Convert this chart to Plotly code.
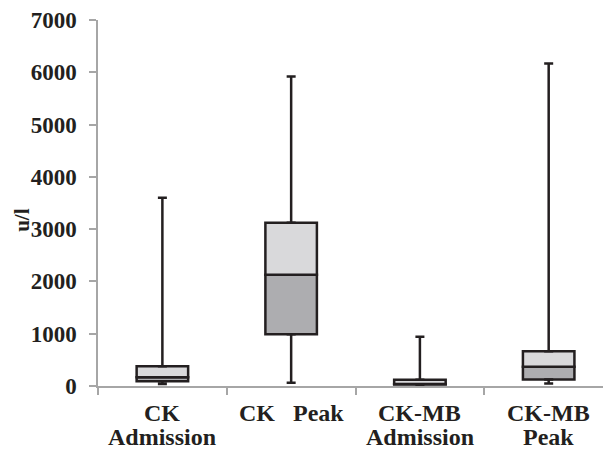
import plotly.graph_objects as go

categories = ["CK Admission", "CK Peak", "CK-MB Admission", "CK-MB Peak"]
label_line1 = ["CK", "CK\u00a0\u00a0\u00a0Peak", "CK-MB", "CK-MB"]
label_line2 = ["Admission", "", "Admission", "Peak"]
minimum = [40, 60, 10, 50]
q1 = [90, 990, 30, 125]
median = [165, 2130, 40, 370]
q3 = [380, 3120, 120, 665]
maximum = [3600, 5920, 940, 6170]
y_ticks = [0, 1000, 2000, 3000, 4000, 5000, 6000, 7000]
y_title = "u/l"

outline = "#231f20"
dark_fill = "#adadb0"
light_fill = "#d9d9db"
axis_gray = "#a6a6a6"
text_color = "#231f20"
font_family = "Liberation Serif, Times New Roman, serif"

fig = go.Figure()

fig.add_trace(go.Bar(
    x=categories, y=[m - a for m, a in zip(median, q1)], base=q1,
    width=0.4, marker=dict(color=dark_fill, line=dict(color=outline, width=2.5)),
    showlegend=False, hoverinfo="skip"))
fig.add_trace(go.Bar(
    x=categories, y=[b - m for b, m in zip(q3, median)], base=median,
    width=0.4, marker=dict(color=light_fill, line=dict(color=outline, width=2.5)),
    showlegend=False, hoverinfo="skip"))

# upper whiskers
fig.add_trace(go.Scatter(
    x=categories, y=q3, mode="markers", marker=dict(size=1, opacity=0),
    error_y=dict(type="data", symmetric=False,
                 array=[mx - b for mx, b in zip(maximum, q3)],
                 arrayminus=[0] * len(q3),
                 color=outline, thickness=2.5, width=4.5),
    showlegend=False, hoverinfo="skip"))
# lower whiskers
fig.add_trace(go.Scatter(
    x=categories, y=q1, mode="markers", marker=dict(size=1, opacity=0),
    error_y=dict(type="data", symmetric=False,
                 array=[0] * len(q1),
                 arrayminus=[a - mn for a, mn in zip(q1, minimum)],
                 color=outline, thickness=2.5, width=4.5),
    showlegend=False, hoverinfo="skip"))

label_font = dict(size=24, family=font_family, weight="bold", color=text_color)
annotations = []
for cat, l1, l2 in zip(categories, label_line1, label_line2):
    annotations.append(dict(x=cat, xref="x", y=0, yref="paper", text=l1, showarrow=False,
                            yanchor="middle", yshift=-27, font=label_font))
    if l2:
        annotations.append(dict(x=cat, xref="x", y=0, yref="paper", text=l2, showarrow=False,
                                yanchor="middle", yshift=-51, font=label_font))
annotations.append(dict(x=0, xref="paper", y=0.454, yref="paper", text=y_title, showarrow=False,
                        textangle=-90, xshift=-76, xanchor="center", yanchor="middle",
                        borderpad=0,
                        font=dict(size=21, family=font_family, weight="bold", color=text_color)))

fig.update_layout(
    width=603, height=444,
    margin=dict(l=90, r=0, t=12, b=66, pad=0),
    plot_bgcolor="white", paper_bgcolor="white",
    barmode="overlay",
    font=dict(family=font_family, color=text_color),
    annotations=annotations,
    xaxis=dict(
        type="category", automargin=False,
        range=[-0.5, 3.484],
        showline=True, linecolor=axis_gray, linewidth=1.5,
        ticks="outside", tickson="boundaries", ticklen=7, tickcolor=axis_gray, tickwidth=1.5,
        showticklabels=False,
        showgrid=False, zeroline=False,
    ),
    yaxis=dict(
        automargin=False,
        range=[0, 7000], tickvals=y_ticks,
        showline=True, linecolor=axis_gray, linewidth=1.5,
        ticks="outside", ticklen=7, tickcolor=axis_gray, tickwidth=1.5,
        tickfont=dict(size=23, family=font_family, weight="bold", color=text_color),
        ticklabelstandoff=8,
        showgrid=False, zeroline=False,
    ),
)

fig.write_html("out.html")
